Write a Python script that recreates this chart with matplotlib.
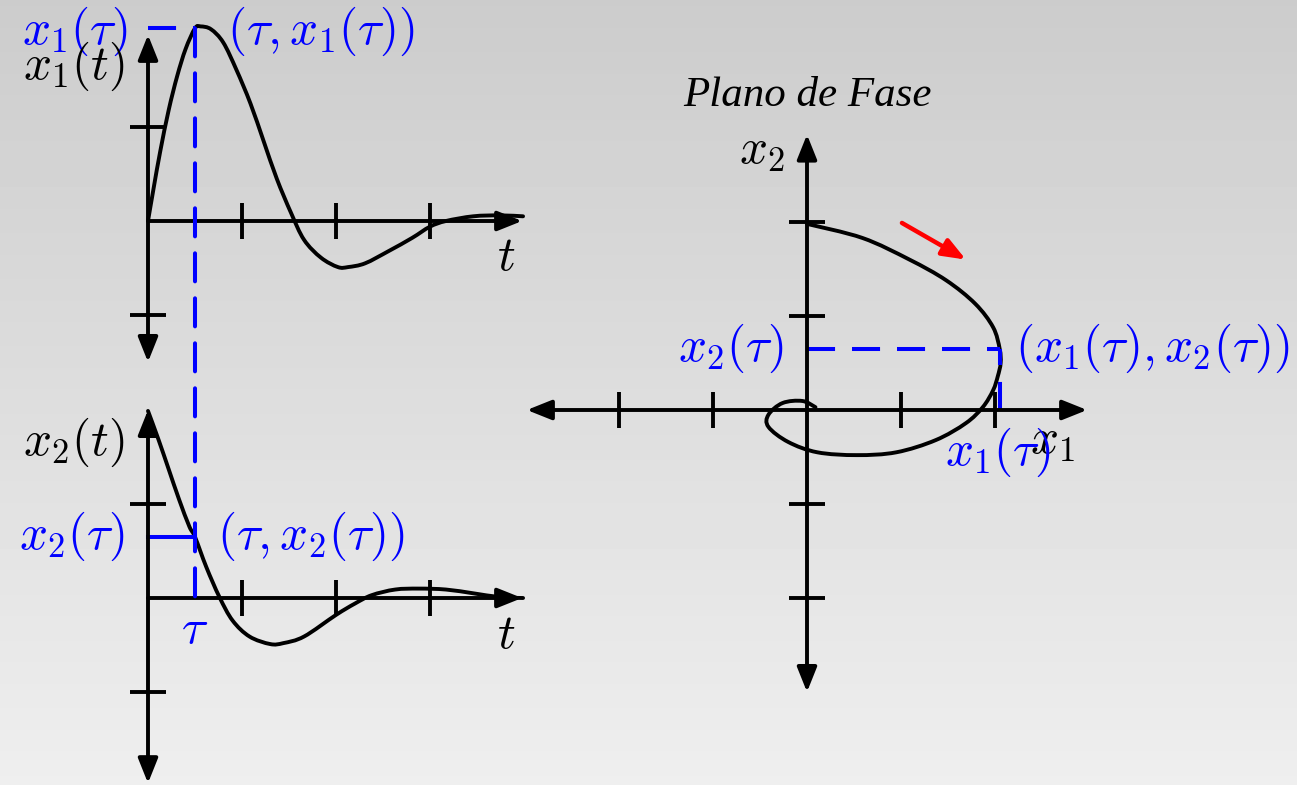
import numpy as np
import matplotlib.pyplot as plt
from matplotlib.patches import ConnectionPatch, PathPatch
from matplotlib.path import Path

plt.rcParams['mathtext.fontset'] = 'cm'
plt.rcParams['lines.scale_dashes'] = False

W, H = 1297, 785
U = 94.0  # pixels por unidade

# resposta x1(t)
t1 = [0.0, 0.06, 0.13, 0.22, 0.31, 0.40, 0.50, 0.56, 0.67, 0.80, 0.94, 1.09,
      1.23, 1.37, 1.52, 1.66, 1.84, 2.02, 2.13, 2.31, 2.56, 2.81, 3.0, 3.17,
      3.46, 3.74, 3.99]
x1 = [0.0, 0.35, 0.74, 1.18, 1.54, 1.83, 2.05, 2.07, 2.04, 1.90, 1.61, 1.25,
      0.85, 0.45, 0.09, -0.20, -0.39, -0.49, -0.49, -0.45, -0.32, -0.18, -0.06,
      0.0, 0.05, 0.06, 0.05]

# resposta x2(t)
t2 = [0.0, 0.11, 0.22, 0.33, 0.44, 0.50, 0.62, 0.76, 0.90, 1.08, 1.30, 1.44,
      1.66, 2.0, 2.20, 2.38, 2.63, 2.88, 3.17, 3.46, 3.74, 3.99]
x2 = [1.99, 1.69, 1.37, 1.05, 0.76, 0.65, 0.33, 0.01, -0.24, -0.41, -0.49, -0.48,
      -0.41, -0.18, -0.06, 0.03, 0.09, 0.10, 0.09, 0.05, 0.01, 0.0]

# trajetoria no plano de fase
fase_x1 = [0.0, 0.59, 1.09, 1.48, 1.79, 1.98, 2.05, 2.06, 2.03, 1.98, 1.87, 1.69,
           1.37, 0.95, 0.53, 0.11, -0.20, -0.41, -0.41, -0.26, -0.05, 0.09]
fase_x2 = [1.98, 1.83, 1.60, 1.38, 1.13, 0.88, 0.65, 0.50, 0.36, 0.21, 0.03, -0.14,
           -0.32, -0.45, -0.48, -0.45, -0.34, -0.18, -0.05, 0.074, 0.096, 0.03]

tau = 0.5
x1_tau = 2.05
x2_tau = 0.65

ticks_t = [1, 2, 3]
ticks_y = [-1, 1]
ticks_fase = [-2, -1, 1, 2]

LW = 2.8
AZUL = '#0000ff'
TRACO = (0, (20.2, 12.2))
FS = 35.5
h = 0.19

fig = plt.figure(figsize=(W / 100, H / 100), dpi=100)

# fundo em degrade
bg = fig.add_axes([0, 0, 1, 1])
grad = np.linspace(0.80, 0.935, 256).reshape(-1, 1)
bg.imshow(grad, aspect='auto', cmap='gray', vmin=0, vmax=1, origin='upper',
          extent=[0, 1, 0, 1])
bg.axis('off')


def make_ax(ox, oy, xlim, ylim):
    left = (ox + U * xlim[0]) / W
    width = U * (xlim[1] - xlim[0]) / W
    bottom = (H - (oy - U * ylim[0])) / H
    height = U * (ylim[1] - ylim[0]) / H
    ax = fig.add_axes([left, bottom, width, height])
    ax.set_xlim(xlim)
    ax.set_ylim(ylim)
    ax.axis('off')
    ax.patch.set_alpha(0)
    return ax


def seta(ax, p0, p1, dupla=False, cor='k', lw=LW, hl=1.5, hw=0.6):
    estilo = '<|-|>' if dupla else '-|>'
    ax.annotate('', xy=p1, xytext=p0, annotation_clip=False,
                arrowprops=dict(arrowstyle=f'{estilo},head_length={hl},head_width={hw}',
                                lw=lw, color=cor, shrinkA=0, shrinkB=0,
                                mutation_scale=10))


def marcas(ax, tx, ty):
    ax.vlines(tx, -h, h, color='k', lw=LW, clip_on=False)
    ax.hlines(ty, -h, h, color='k', lw=LW, clip_on=False)


def curva(ax, xs, ys):
    # curva suave (Catmull-Rom em segmentos de Bezier) pelos pontos dados
    p = np.column_stack([xs, ys])
    q = np.vstack([p[0], p, p[-1]])
    verts = [p[0]]
    for i in range(len(p) - 1):
        a, b, c, d = q[i], q[i + 1], q[i + 2], q[i + 3]
        verts += [b + (c - a) / 6, c - (d - b) / 6, c]
    codes = [Path.MOVETO] + [Path.CURVE4] * (len(verts) - 1)
    ax.add_patch(PathPatch(Path(verts, codes), fill=False, edgecolor='k',
                           lw=LW, capstyle='round', joinstyle='round',
                           clip_on=False))


# ---- x1(t)
ax1 = make_ax(148, 221, (-1.6, 4.2), (-1.7, 2.2))
seta(ax1, (0, 0), (3.98, 0))
seta(ax1, (0, -1.5), (0, 1.98), dupla=True)
marcas(ax1, ticks_t, ticks_y)
curva(ax1, t1, x1)
ax1.plot([0, tau], [x1_tau, x1_tau], color=AZUL, lw=2.9, ls=TRACO, clip_on=False)
ax1.text(-0.22, 2.02, r'$x_1(\tau)$', color=AZUL, fontsize=FS, ha='right', va='center')
ax1.text(0.84, 2.02, r'$(\tau, x_1(\tau))$', color=AZUL, fontsize=FS, ha='left', va='center')
ax1.text(-0.245, 1.64, r'$x_1(t)$', color='k', fontsize=FS, ha='right', va='center')
ax1.text(3.81, -0.37, r'$t$', color='k', fontsize=FS, ha='center', va='center')

# ---- x2(t)
ax2 = make_ax(148, 598, (-1.6, 4.2), (-2.0, 2.1))
seta(ax2, (0, 0), (3.98, 0))
seta(ax2, (0, -1.97), (0, 2.0), dupla=True)
marcas(ax2, ticks_t, ticks_y)
curva(ax2, t2, x2)
ax2.plot([0, tau], [x2_tau, x2_tau], color=AZUL, lw=2.9, clip_on=False)
ax2.text(-0.245, 1.65, r'$x_2(t)$', color='k', fontsize=FS, ha='right', va='center')
ax2.text(-0.245, 0.65, r'$x_2(\tau)$', color=AZUL, fontsize=FS, ha='right', va='center')
ax2.text(0.73, 0.65, r'$(\tau, x_2(\tau))$', color=AZUL, fontsize=FS, ha='left', va='center')
ax2.text(tau, -0.33, r'$\tau$', color=AZUL, fontsize=FS, ha='center', va='center')
ax2.text(3.81, -0.38, r'$t$', color='k', fontsize=FS, ha='center', va='center')

# linha tracejada em t = tau ligando os dois graficos
con = ConnectionPatch(xyA=(tau, x1_tau), coordsA=ax1.transData,
                      xyB=(tau, 0), coordsB=ax2.transData,
                      color=AZUL, lw=2.9, linestyle=TRACO, zorder=5)
fig.add_artist(con)

# ---- plano de fase
ax3 = make_ax(807, 410, (-3.2, 3.2), (-3.1, 3.6))
seta(ax3, (-2.98, 0), (2.98, 0), dupla=True)
seta(ax3, (0, -3.0), (0, 2.93), dupla=True)
marcas(ax3, ticks_fase, ticks_fase)
curva(ax3, fase_x1, fase_x2)
ax3.plot([0, x1_tau], [x2_tau, x2_tau], color=AZUL, lw=2.9, ls=TRACO, clip_on=False)
ax3.plot([x1_tau, x1_tau], [0, x2_tau], color=AZUL, lw=2.9, ls=TRACO, clip_on=False)
seta(ax3, (1.01, 1.99), (1.69, 1.60), cor='red', lw=3.2, hl=1.4, hw=0.55)
ax3.text(0.0, 3.34, 'Plano de Fase', fontsize=31, family='Liberation Serif',
         style='italic', ha='center', va='center')
ax3.text(-0.48, 2.77, r'$x_2$', color='k', fontsize=FS, ha='center', va='center')
ax3.text(-0.245, 0.65, r'$x_2(\tau)$', color=AZUL, fontsize=FS, ha='right', va='center')
ax3.text(2.21, 0.65, r'$(x_1(\tau), x_2(\tau))$', color=AZUL, fontsize=FS,
         ha='left', va='center')
ax3.text(2.61, -0.32, r'$x_1$', color='k', fontsize=FS, ha='center', va='center')
ax3.text(2.03, -0.45, r'$x_1(\tau)$', color=AZUL, fontsize=FS, ha='center', va='center')

fig.savefig('out.png', dpi=100)
